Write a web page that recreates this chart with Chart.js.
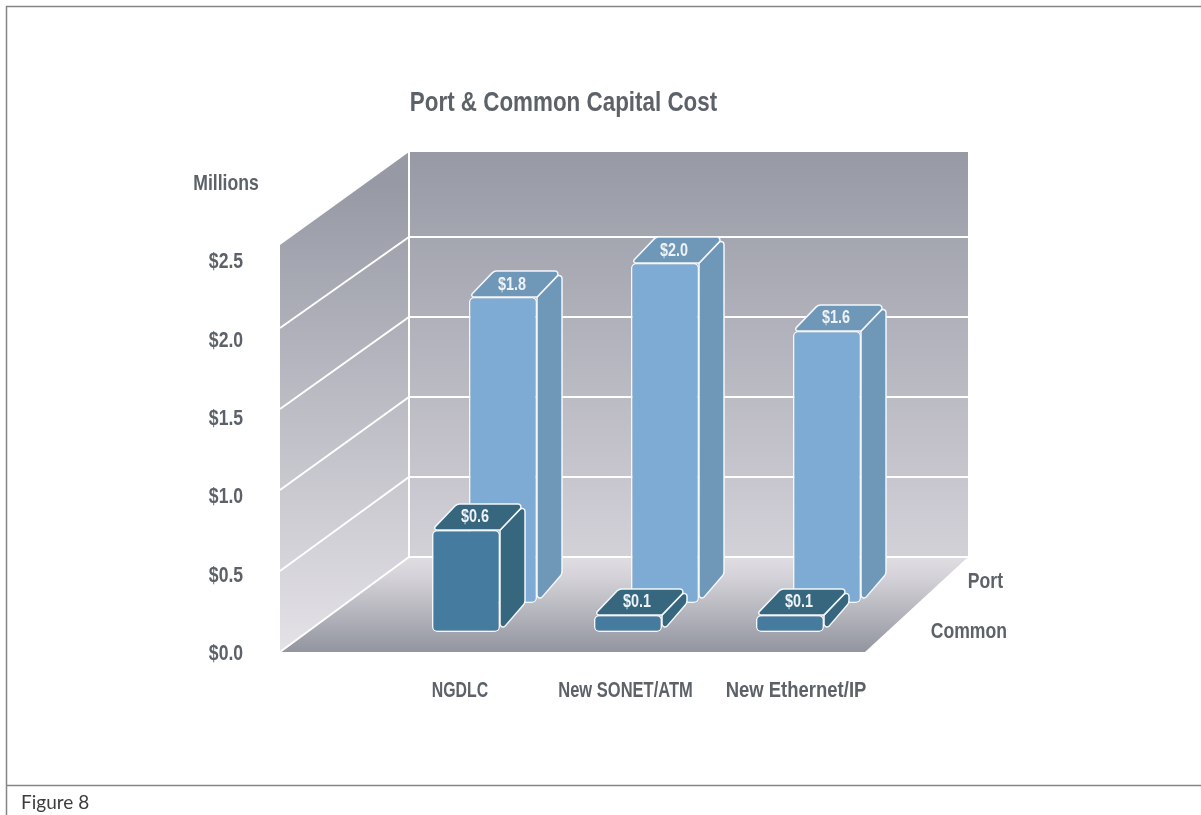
<!DOCTYPE html>
<html>
<head>
<meta charset="utf-8">
<title>Port &amp; Common Capital Cost</title>
<script src="https://cdn.jsdelivr.net/npm/chart.js@4/dist/chart.umd.min.js"></script>
<style>
    html, body { margin: 0; padding: 0; background: #fff; overflow: hidden; }
    canvas { display: block; }
</style>
</head>
<body>
<canvas id="costChart" width="1201" height="815"></canvas>
<script>
const chartTitle = 'Port & Common Capital Cost';
const figureCaption = 'Figure 8';
const categories = ['NGDLC', 'New SONET/ATM', 'New Ethernet/IP'];
const portCost = [1.8, 2.0, 1.6];
const commonCost = [0.6, 0.1, 0.1];
const yTickLabels = ['$0.0', '$0.5', '$1.0', '$1.5', '$2.0', '$2.5', 'Millions'];
const wallGridValues = [0.5, 1.0, 1.5, 2.0];

const labelFont = 'bold 22px "Liberation Sans", Arial, sans-serif';
const textColor = '#5c6268';

// Where each row of bars sits on the floor, relative to the front edge
const rows = [
    { dx: 0, dy: -21, side: '#37677f' },
    { dx: 37, dy: -50, side: '#6f97b8' }
];
const barDepth = { x: 25, y: 26 };
const categoryNudge = [-6, -2.5, 6];
const categorySqueeze = [0.72, 0.75, 0.84];

// Floor and wall corners of the box
const box = { frontLeft: 280, backLeft: 409, backRight: 968, frontRight: 865, floorFront: 652, floorBack: 557, wallTopBack: 152, wallTopFront: 245 };

// radius can be one number or one per corner
function polygon(ctx, points, radius) {
    ctx.beginPath();
    const n = points.length;
    const start = [(points[n - 1][0] + points[0][0]) / 2, (points[n - 1][1] + points[0][1]) / 2];
    ctx.moveTo(start[0], start[1]);
    points.forEach((p, i) => {
        const next = points[(i + 1) % n];
        ctx.arcTo(p[0], p[1], next[0], next[1], Array.isArray(radius) ? radius[i] : radius);
    });
    ctx.closePath();
}

// The installed sans has no narrow cut, so labels are squeezed horizontally
function text(ctx, str, x, y, font, color, squeeze, align) {
    ctx.save();
    ctx.font = font;
    ctx.fillStyle = color;
    ctx.textAlign = align || 'center';
    ctx.textBaseline = 'middle';
    ctx.translate(x, y);
    ctx.scale(squeeze, 1);
    ctx.fillText(str, 0, 0);
    ctx.restore();
}

const boxPlugin = {
    id: 'box3d',
    beforeDraw(chart) {
        const ctx = chart.ctx;
        ctx.save();

        // Outer frame and caption rule
        ctx.strokeStyle = '#858585';
        ctx.lineWidth = 1.5;
        ctx.beginPath();
        ctx.moveTo(1201, 6.5);
        ctx.lineTo(6.5, 6.5);
        ctx.lineTo(6.5, 815);
        ctx.moveTo(6.5, 785.5);
        ctx.lineTo(1201, 785.5);
        ctx.stroke();
        text(ctx, figureCaption, 21, 803, '19px Lato, "Open Sans", sans-serif', '#3d3d3d', 1, 'left');

        text(ctx, chartTitle, 563.5, 103, 'bold 28px "Liberation Sans", Arial, sans-serif', textColor, 0.8);

        const wallScale = chart.scales.yWall;
        const offset = wallScale.getPixelForValue(0);

        // Back wall
        let grad = ctx.createLinearGradient(0, box.wallTopBack, 0, box.floorBack);
        grad.addColorStop(0, '#979aa5');
        grad.addColorStop(1, '#d3d1d8');
        ctx.fillStyle = grad;
        ctx.fillRect(box.backLeft, box.wallTopBack, box.backRight - box.backLeft, box.floorBack - box.wallTopBack);

        // Side wall
        grad = ctx.createLinearGradient(0, box.wallTopFront - 60, 0, box.floorFront);
        grad.addColorStop(0, '#979aa5');
        grad.addColorStop(1, '#e4e2e7');
        ctx.fillStyle = grad;
        polygon(ctx, [[box.frontLeft, box.wallTopFront], [box.backLeft, box.wallTopBack], [box.backLeft, box.floorBack], [box.frontLeft, box.floorFront]], 0);
        ctx.fill();

        // Floor
        grad = ctx.createLinearGradient(0, box.floorBack, 0, box.floorFront);
        grad.addColorStop(0, '#dfdde2');
        grad.addColorStop(0.2, '#d5d3d9');
        grad.addColorStop(1, '#92959f');
        ctx.fillStyle = grad;
        polygon(ctx, [[box.backLeft, box.floorBack], [box.backRight, box.floorBack], [box.frontRight, box.floorFront], [box.frontLeft, box.floorFront]], 0);
        ctx.fill();

        // Grid lines run along the back wall and down the side wall
        ctx.strokeStyle = '#fff';
        ctx.lineWidth = 2;
        ctx.beginPath();
        wallGridValues.forEach(v => {
            const rise = offset - wallScale.getPixelForValue(v);
            const yBack = box.floorBack - rise;
            const yFront = box.floorFront - rise * 1.0125;
            ctx.moveTo(box.frontLeft, yFront);
            ctx.lineTo(box.backLeft, yBack);
            ctx.lineTo(box.backRight, yBack);
        });
        ctx.moveTo(box.frontLeft, box.floorFront);
        ctx.lineTo(box.backLeft, box.floorBack);
        ctx.lineTo(box.backRight, box.floorBack);
        ctx.moveTo(box.backLeft, box.wallTopBack);
        ctx.lineTo(box.backLeft, box.floorBack);
        ctx.stroke();

        // Value axis labels, centred in a column left of the box
        const yScale = chart.scales.y;
        yScale.ticks.forEach((tick, i) => {
            text(ctx, tick.label, 226, yScale.getPixelForTick(i) + 1, labelFont, textColor, 0.8);
        });

        // Row names beside the floor
        text(ctx, 'Port', 1003, 582, labelFont, textColor, 0.8, 'right');
        text(ctx, 'Common', 1007, 632, labelFont, textColor, 0.8, 'right');

        const xScale = chart.scales.x;
        categories.forEach((name, i) => {
            text(ctx, name, xScale.getPixelForValue(i) + categoryNudge[i], 691, labelFont, textColor, categorySqueeze[i]);
        });
        ctx.restore();
    },
    // Shift a row back along the floor, then draw its top and side faces
    beforeDatasetDraw(chart, args) {
        const ctx = chart.ctx;
        const row = rows[args.index];
        ctx.save();
        ctx.translate(row.dx, row.dy);
        ctx.strokeStyle = '#f4f7fa';
        ctx.lineWidth = 1.5;
        ctx.lineJoin = 'round';
        ctx.fillStyle = row.side;
        args.meta.data.forEach(bar => {
            const left = bar.x - bar.width / 2;
            const right = bar.x + bar.width / 2;
            const backX = right + barDepth.x;
            const backTop = bar.y - barDepth.y;
            polygon(ctx, [[right, bar.y], [backX, backTop], [backX, bar.base - barDepth.y - 3], [right, bar.base]], [2, 3, 7, 3]);
            ctx.fill();
            ctx.stroke();
            polygon(ctx, [[left, bar.y], [left + barDepth.x, backTop], [backX, backTop], [right, bar.y]], [2, 6, 3, 2]);
            ctx.fill();
            ctx.stroke();
        });
    },
    afterDatasetDraw(chart, args) {
        const ctx = chart.ctx;
        const values = chart.data.datasets[args.index].data;
        args.meta.data.forEach((bar, i) => {
            text(ctx, '$' + values[i].toFixed(1), bar.x + 9, bar.y - 12.5, 'bold 18px "Liberation Sans", Arial, sans-serif', '#edf2f6', 0.8);
        });
        ctx.restore();
    }
};

new Chart(document.getElementById('costChart'), {
    type: 'bar',
    data: {
        labels: categories,
        datasets: [
            { label: 'Common', data: commonCost, backgroundColor: '#467ba0' },
            { label: 'Port', data: portCost, backgroundColor: '#7eabd3' }
        ].map(ds => ({
            ...ds,
            yAxisID: 'yBars',
            grouped: false,
            barPercentage: 0.42,
            categoryPercentage: 1,
            borderColor: '#f4f7fa',
            borderWidth: 1.5,
            borderRadius: 5,
            borderSkipped: false,
            clip: false
        }))
    },
    options: {
        responsive: false,
        animation: false,
        layout: { padding: { left: 385, right: 330, top: 183, bottom: 162 } },
        plugins: {
            legend: { display: false },
            title: { display: false },
            tooltip: { enabled: false }
        },
        scales: {
            x: { display: false },
            y: {
                min: 0,
                max: 3,
                grid: { display: false, drawTicks: false },
                border: { display: false },
                ticks: {
                    display: false,
                    stepSize: 0.5,
                    callback: (value, i) => yTickLabels[i]
                }
            },
            yBars: { display: false, min: 0, max: 2.765 },
            yWall: { display: false, min: 0, max: 2.9375 }
        }
    },
    plugins: [boxPlugin]
});
</script>
</body>
</html>
